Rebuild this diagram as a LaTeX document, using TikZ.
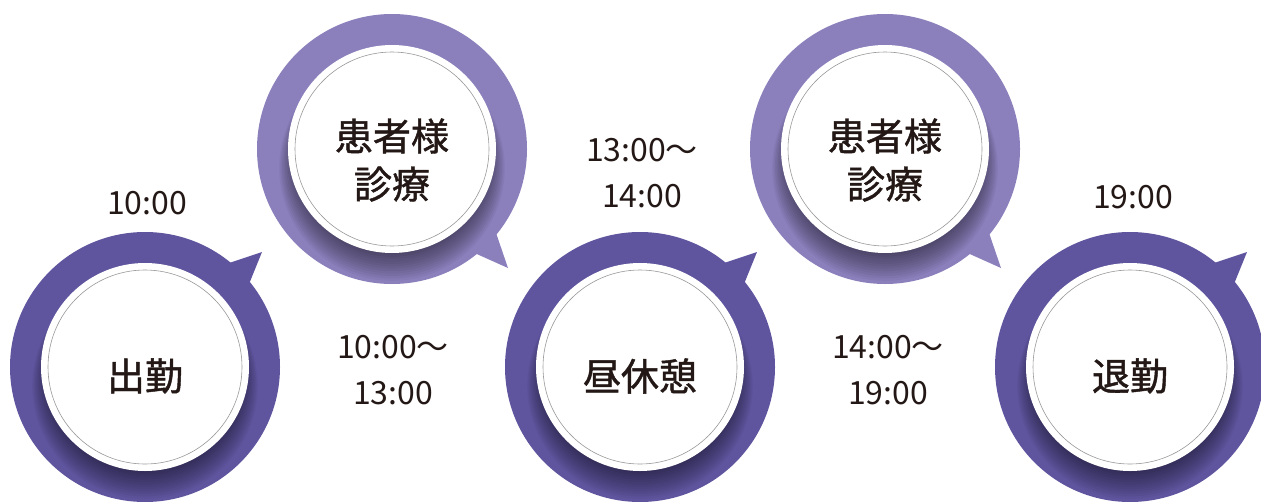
\documentclass[tikz,border=0pt]{standalone}
\usepackage{fontspec}
\setmainfont{Noto Sans CJK JP}
\newfontfamily\labeljp{Noto Sans CJK JP}[FakeBold=1.2]
\usetikzlibrary{positioning}
\definecolor{lowpurple}{HTML}{5F559F}
\definecolor{uppurple}{HTML}{8B80BC}
\definecolor{inktext}{HTML}{231815}

% soft shadow under the white face of a bubble
\newcommand{\faceshadow}[1]{%
  \foreach \k in {1,...,12}
    \fill[black, opacity=0.045, shift={(#1.center)}] (0,7+\k) circle ({96+\k*1.4});
}

\begin{document}
\begin{tikzpicture}[x=1pt, y=-1pt,
  ring/.style={circle, inner sep=0pt, minimum size=270pt},
  face/.style={circle, fill=white, inner sep=0pt, minimum size=208pt},
  facelabel/.style={align=center, text=inktext, font=\fontsize{38}{48}\selectfont\labeljp},
  rim/.style={draw=gray!80, line width=0.6pt},
  timelabel/.style={align=center, text=inktext, font=\fontsize{32}{46}\selectfont}]

\useasboundingbox (0,0) rectangle (1261,501);

% lower bubbles
\foreach \name/\xpos in {arrive/145, lunch/640, leave/1130} {
  \node[ring, fill=lowpurple] (\name) at (\xpos,367) {};
  \fill[lowpurple, shift={(\name.center)}] (78,-102) -- (117,-115) -- (102,-78) -- cycle;
  \faceshadow{\name}
}

% upper bubbles
\foreach \name/\xpos in {amcare/392, pmcare/885} {
  \node[ring, fill=uppurple] (\name) at (\xpos,149) {};
  \fill[uppurple, shift={(\name.center)}] (78,102) -- (116,119) -- (102,78) -- cycle;
  \faceshadow{\name}
}

\foreach \name in {arrive, lunch, leave, amcare, pmcare} {
  \node[face] (\name face) at (\name) {};
  \draw[rim] (\name face.center) circle (97);
}

\node[facelabel] (arrivetext) at ([yshift=-9pt]arrive) {出勤};
\node[facelabel] (lunchtext) at ([yshift=-9pt]lunch) {昼休憩};
\node[facelabel] (leavetext) at ([yshift=-9pt]leave) {退勤};
\node[facelabel] (amcaretext) at ([yshift=-11pt]amcare) {患者様\\診療};
\node[facelabel] (pmcaretext) at ([yshift=-11pt]pmcare) {患者様\\診療};

% times
\node[timelabel] (arrivetime) at (147,203) {10:00};
\node[timelabel] (amtime) at (393,370) {10:00～\\13:00};
\node[timelabel] (lunchtime) at (642,173) {13:00～\\14:00};
\node[timelabel] (pmtime) at (888,370) {14:00～\\19:00};
\node[timelabel] (leavetime) at (1133,197) {19:00};

\end{tikzpicture}
\end{document}
